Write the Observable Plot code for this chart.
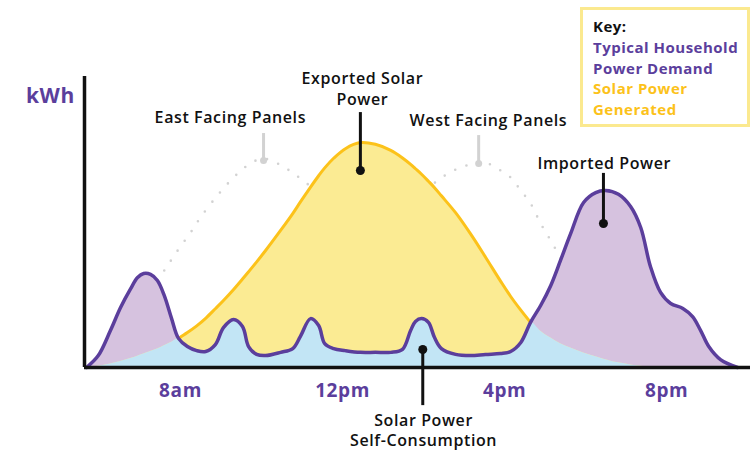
<!DOCTYPE html>
<html>
<head>
<meta charset="utf-8">
<script src="https://cdn.jsdelivr.net/npm/d3@7"></script>
<script src="https://cdn.jsdelivr.net/npm/@observablehq/plot@0.6"></script>
<style>
  html, body { margin: 0; padding: 0; background: #fff; }
  #wrap { position: relative; width: 753px; height: 450px; font-family: "Open Sans", sans-serif; }
  #wrap svg text { letter-spacing: 0.6px; }
  #key { position: absolute; left: 580px; top: 7px; width: 164px; height: 114px;
         border: 3px solid #fbe98f; box-sizing: content-box; padding: 0;
         font-family: "Open Sans", sans-serif; font-weight: 700; font-size: 15px; line-height: 20.8px; letter-spacing: 0.5px; }
  #key .inner { position: absolute; left: 10px; top: 6px; white-space: nowrap; }
</style>
</head>
<body>
<div id="wrap">
  <div id="chart"></div>
  <div id="key"><div class="inner">
    <div style="color:#111">Key:</div>
    <div style="color:#5b3e9c">Typical Household</div>
    <div style="color:#5b3e9c">Power Demand</div>
    <div style="color:#fcc21a">Solar Power</div>
    <div style="color:#fcc21a">Generated</div>
  </div></div>
</div>
<script>
// Time of day (hours) and values (kWh, arbitrary units 0..100)
const hours = [5.68, 5.97, 6.27, 6.52, 6.77, 6.94, 7.09, 7.26, 7.43, 7.60, 7.78, 7.95,
  8.17, 8.40, 8.62, 8.86, 9.06, 9.31, 9.53, 9.68, 9.88, 10.10,
  10.47, 10.77, 10.96, 11.21, 11.41, 11.56, 11.78, 12.07, 12.44, 12.81,
  13.19, 13.48, 13.68, 13.80, 13.95, 14.12, 14.27, 14.44, 14.79, 15.16,
  15.53, 15.90, 16.15, 16.40, 16.64, 16.89, 17.14, 17.38, 17.63, 17.95,
  18.25, 18.49, 18.81, 19.11, 19.36, 19.60, 19.85, 20.10, 20.40, 20.64,
  20.84, 21.04, 21.33, 21.75];
const demand = [0, 4.1, 12.7, 20.6, 27.1, 30.9, 32.3, 32.0, 29.9, 24.7, 16.8, 10.0,
  7.2, 5.8, 5.5, 7.9, 13.7, 16.5, 14.1, 7.2, 4.5, 4.1,
  5.2, 6.5, 10.7, 16.8, 14.4, 8.2, 6.5, 5.8, 5.2, 5.2,
  5.2, 6.2, 12.7, 15.8, 16.8, 15.5, 10.3, 6.5, 4.5, 4.1,
  4.5, 4.8, 5.5, 8.6, 15.5, 21.3, 28.2, 36.8, 46.0, 56.7,
  60.1, 60.8, 59.5, 55.3, 48.1, 34.7, 25.8, 22.0, 20.3, 17.5,
  12.7, 7.2, 2.7, 0];
const solar = [0, 0.4, 1.2, 2.1, 3.1, 3.9, 4.6, 5.5, 6.4, 7.5, 8.7, 10.0,
  12.0, 14.3, 16.9, 20.2, 23.0, 26.8, 30.4, 32.9, 36.3, 40.2,
  47.1, 52.9, 56.9, 62.0, 65.9, 68.6, 71.9, 75.2, 77.3, 76.7,
  74.6, 72.0, 69.8, 68.3, 66.4, 64.0, 61.8, 59.0, 53.2, 45.9,
  37.9, 29.7, 24.4, 19.7, 15.5, 12.5, 10.1, 8.2, 6.7, 5.0,
  3.7, 2.7, 1.6, 0.9, 0.4, 0.1, 0, 0, 0, 0,
  0, 0, 0, 0];

// Dotted panel curves
const eastHours = [7.43, 7.63, 7.93, 8.25, 8.49, 8.91, 9.31, 9.65, 10.02, 10.40, 10.79, 11.21, 11.58];
const eastValues = [29.9, 34.0, 40.2, 46.4, 51.5, 59.1, 65.3, 69.4, 71.8, 70.1, 66.7, 62.2, 57.4];
const westHours = [13.80, 14.05, 14.35, 14.74, 15.06, 15.36, 15.65, 15.90, 16.15, 16.40, 16.64, 16.89, 17.21, 17.51, 17.75];
const westValues = [58.8, 60.8, 64.3, 67.7, 69.4, 70.4, 69.8, 67.7, 65.3, 60.8, 56.4, 49.5, 41.9, 34.0, 26.5];

// Tick labels
const tickHours = [8, 12, 16, 20];
const tickLabels = ["8am", "12pm", "4pm", "8pm"];

// Callouts (black): x, line start, line end (dot)
const calloutHours = [12.44, 18.44, 13.98];
const calloutFrom = [87.6, 66.7, -13.1];
const calloutTo = [67.7, 49.5, 6.2];
// Grey panel markers
const markerHours = [10.05, 15.36];
const markerFrom = [80.4, 79.7];
const markerTo = [71.1, 70.1];

// Annotation texts
const noteTexts = ["Exported Solar", "Power", "East Facing Panels", "West Facing Panels", "Imported Power", "Solar Power", "Self-Consumption"];
const noteHours = [12.49, 12.49, 9.23, 15.60, 18.46, 14.0, 14.0];
const noteValues = [99.3, 92.1, 85.9, 84.9, 70.1, -18.2, -25.1];

const xDomain = [5.63, 22.07];

const series = hours.map((h, i) => ({h, d: demand[i], s: solar[i], m: Math.min(demand[i], solar[i])}));
const east = eastHours.map((h, i) => ({h, v: eastValues[i]}));
const west = westHours.map((h, i) => ({h, v: westValues[i]}));
const ticks = tickHours.map((h, i) => ({h, label: tickLabels[i]}));
const callouts = calloutHours.map((h, i) => ({h, a: calloutFrom[i], b: calloutTo[i]}));
const markers = markerHours.map((h, i) => ({h, a: markerFrom[i], b: markerTo[i]}));
const notes = noteTexts.map((t, i) => ({t, h: noteHours[i], v: noteValues[i]}));

const PURPLE = "#5b3e9c", LAV = "#d6c2df", YFILL = "#fbeb93", YLINE = "#fcc21a", BLUE = "#c2e5f5", GREY = "#d2d2d2";
const dotted = {x: "h", y: "v", stroke: GREY, strokeWidth: 2.6, strokeDasharray: "0 12", strokeLinecap: "round", curve: "catmull-rom"};

const chart = Plot.plot({
  width: 753, height: 450,
  marginLeft: 84, marginRight: 3, marginTop: 76, marginBottom: 83,
  x: {domain: xDomain, axis: null},
  y: {domain: [0, 100], axis: null},
  style: {fontFamily: "'Open Sans', sans-serif", overflow: "visible", background: "white"},
  marks: [
    Plot.line(east, dotted),
    Plot.line(west, dotted),
    Plot.areaY(series, {x: "h", y1: () => 0, y2: "d", fill: LAV, curve: "catmull-rom"}),
    Plot.areaY(series, {x: "h", y1: () => 0, y2: "s", fill: YFILL, curve: "catmull-rom"}),
    Plot.areaY(series, {x: "h", y1: () => 0, y2: "m", fill: BLUE, curve: "catmull-rom"}),
    Plot.line(series, {x: "h", y: d => d.s >= d.d ? d.s : NaN, stroke: YLINE, strokeWidth: 3, curve: "catmull-rom"}),
    Plot.line(series, {x: "h", y: "d", stroke: PURPLE, strokeWidth: 3.5, curve: "catmull-rom", strokeLinejoin: "round"}),
    Plot.ruleY([0], {stroke: "#111", strokeWidth: 3.5}),
    Plot.ruleX([xDomain[0]], {y1: 0, y2: 100, stroke: "#111", strokeWidth: 3.5}),
    // grey markers
    Plot.ruleX(markers, {x: "h", y1: "a", y2: "b", stroke: GREY, strokeWidth: 3}),
    Plot.dot(markers, {x: "h", y: "b", r: 3.5, fill: GREY}),
    // black callouts
    Plot.ruleX(callouts, {x: "h", y1: "a", y2: "b", stroke: "#111", strokeWidth: 3}),
    Plot.dot(callouts, {x: "h", y: "b", r: 4.5, fill: "#111"}),
    // texts
    Plot.text(notes, {x: "h", y: "v", text: "t", fill: "#111", fontSize: 16, fontWeight: 600}),
    Plot.text(ticks, {x: "h", y: () => -7.9, text: "label", fill: PURPLE, fontSize: 19, fontWeight: 700}),
    Plot.text(["kWh"], {x: () => 4.79, y: () => 93.1, text: d => d, fill: PURPLE, fontSize: 21, fontWeight: 700})
  ]
});
document.getElementById("chart").appendChild(chart);
</script>
</body>
</html>
